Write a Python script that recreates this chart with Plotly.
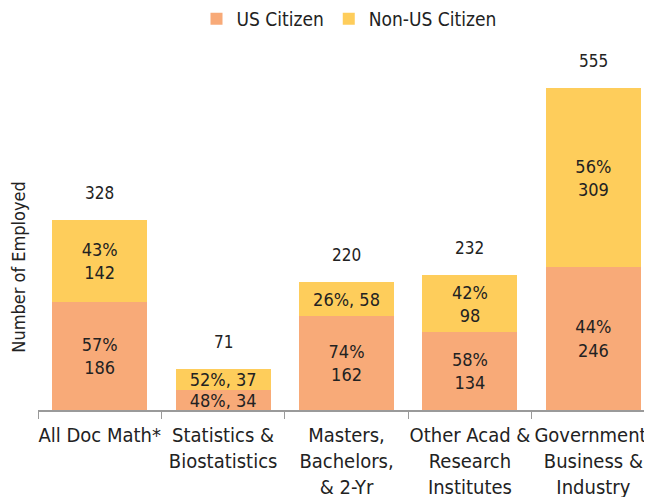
import plotly.graph_objects as go

categories = ["All Doc Math*", "Statistics &<br>Biostatistics", "Masters,<br>Bachelors,<br>& 2-Yr",
              "Other Acad &<br>Research<br>Institutes", "Government,<br>Business &<br>Industry"]
us_values = [186, 34, 162, 134, 246]
non_us_values = [142, 37, 58, 98, 309]
totals = [328, 71, 220, 232, 555]
us_labels = ["57%<br>186", "48%, 34", "74%<br>162", "58%<br>134", "44%<br>246"]
non_us_labels = ["43%<br>142", "52%, 37", "26%, 58", "42%<br>98", "56%<br>309"]

FONT = "DejaVu Sans Condensed, Liberation Sans Narrow, sans-serif"
US_COLOR = "#F8AA78"
NON_US_COLOR = "#FECD5B"
TXT = "#222222"

fig = go.Figure()
fig.add_trace(go.Bar(x=categories, y=us_values, name="US Citizen", marker_color=US_COLOR,
                     marker_line_width=0, text=us_labels, textposition="inside",
                     insidetextanchor="middle", textfont=dict(size=18, color=TXT, family=FONT),
                     width=0.77))
fig.add_trace(go.Bar(x=categories, y=non_us_values, name="Non-US Citizen", marker_color=NON_US_COLOR,
                     marker_line_width=0, text=non_us_labels, textposition="inside",
                     insidetextanchor="middle", textfont=dict(size=18, color=TXT, family=FONT),
                     width=0.77))

for c, t in zip(categories, totals):
    fig.add_annotation(x=c, y=t, text=str(t), showarrow=False, yanchor="bottom", yshift=15,
                       font=dict(size=17, color=TXT, family=FONT))

fig.add_annotation(xref="paper", yref="paper", x=-0.032, y=0.385, text="Number of Employed",
                   textangle=-90, showarrow=False, xanchor="center", yanchor="middle",
                   font=dict(size=18, color=TXT, family=FONT))

fig.update_layout(
    width=652, height=497,
    barmode="stack",
    paper_bgcolor="white", plot_bgcolor="white",
    margin=dict(l=30, r=0, t=32, b=95, autoexpand=False),
    font=dict(family=FONT, size=18, color=TXT),
    uniformtext=dict(minsize=18, mode="show"),
    legend=dict(orientation="h", x=0.5, xanchor="center", y=1.057, yanchor="middle",
                font=dict(size=19, color=TXT, family=FONT), itemwidth=30,
                traceorder="normal"),
    showlegend=True,
)
fig.update_xaxes(range=[-0.5, 4.54], showline=True, linecolor="#9a9a9a", linewidth=1.5,
                 ticks="outside", tickson="boundaries", tickcolor="#9a9a9a", ticklen=7,
                 tickangle=0, ticklabelstandoff=6,
                 tickfont=dict(size=20, color=TXT, family=FONT), showgrid=False, automargin=False)
fig.update_yaxes(range=[0, 638], showticklabels=False, showgrid=False, zeroline=False,
                 showline=False, ticks="", automargin=False)

fig.write_html("out.html")
